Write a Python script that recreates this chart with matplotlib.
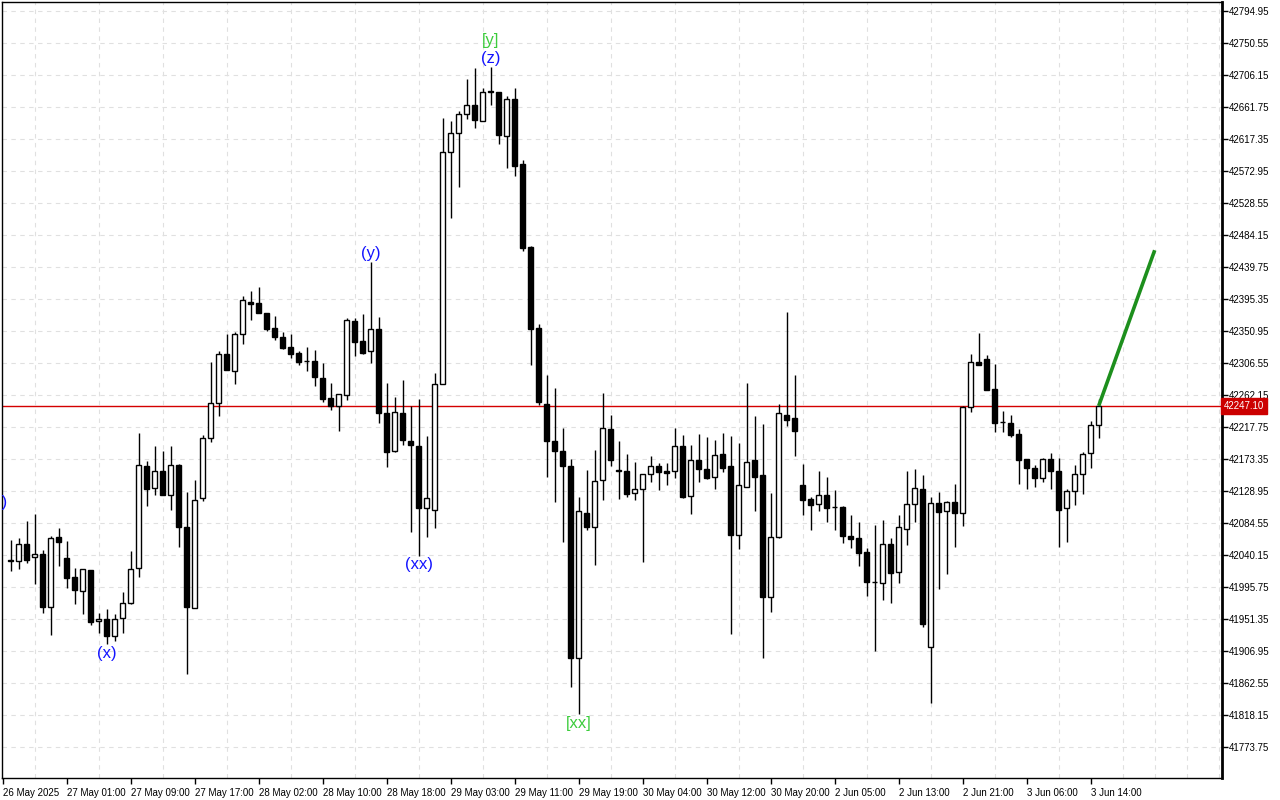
import matplotlib
matplotlib.use("Agg")
import matplotlib.pyplot as plt
import matplotlib.transforms as mtransforms
import numpy as np

# hourly candles (bar 0 = first full bar on the left)
opens = [42031.8, 42031.8, 42055.4, 42037.0, 42041.5, 41967.6, 42065.1, 42035.6, 42009.2, 41989.8,
         42018.9, 41948.2, 41951.8, 41927.3, 41952.3, 41973.1, 42021.7, 42163.2, 42132.7, 42157.1,
         42123.0, 42164.6, 42078.6, 41966.2, 42119.2, 42202.5, 42250.6, 42318.6, 42295.0, 42346.4,
         42390.8, 42389.4, 42375.5, 42354.7, 42343.0, 42328.8, 42320.4, 42308.9, 42308.9, 42285.7,
         42257.6, 42246.5, 42261.7, 42364.8, 42337.1, 42322.8, 42353.3, 42236.8, 42184.9, 42237.2,
         42198.7, 42191.5, 42105.9, 42102.6, 42277.6, 42599.5, 42625.1, 42651.9, 42664.1, 42642.2,
         42683.5, 42682.6, 42621.2, 42672.6, 42582.1, 42467.4, 42354.8, 42249.7, 42198.9, 42184.7,
         42163.8, 41897.5, 42098.7, 42079.0, 42143.8, 42214.6, 42158.1, 42156.7, 42125.8, 42131.3,
         42152.1, 42163.2, 42156.7, 42156.3, 42191.0, 42121.6, 42171.5, 42159.1, 42148.0, 42179.9,
         42163.6, 42068.3, 42134.1, 42171.5, 42151.2, 41981.5, 42065.5, 42234.0, 42230.2, 42137.3,
         42117.4, 42110.5, 42123.0, 42106.3, 42106.3, 42066.1, 42063.3, 42043.9, 42002.3, 42000.9,
         42055.8, 42016.1, 42076.6, 42110.5, 42131.3, 41912.1, 42111.9, 42100.8, 42113.3, 42098.0,
         42245.1, 42307.5, 42311.7, 42270.1, 42224.3, 42222.9, 42208.0, 42172.9, 42160.4, 42147.4,
         42172.9, 42156.7, 42104.9, 42128.5, 42152.1, 42181.3, 42220.1]
highs = [42061.0, 42063.3, 42087.3, 42097.0, 42046.7, 42066.5, 42077.6, 42059.6, 42021.7, 42020.3,
         42018.9, 41959.3, 41964.8, 41957.9, 41988.4, 42045.7, 42209.0, 42170.6, 42191.4, 42184.0,
         42191.4, 42166.4, 42127.6, 42143.8, 42206.7, 42307.5, 42323.2, 42346.4, 42349.1, 42399.5,
         42406.0, 42412.0, 42375.5, 42371.3, 42349.1, 42346.4, 42323.2, 42328.8, 42324.6, 42306.1,
         42278.4, 42263.1, 42368.6, 42368.6, 42374.5, 42447.1, 42370.0, 42278.4, 42259.0, 42282.4,
         42246.9, 42257.2, 42204.7, 42292.1, 42647.0, 42642.2, 42655.8, 42700.5, 42715.2, 42688.4,
         42717.5, 42682.6, 42676.6, 42687.8, 42587.8, 42469.0, 42360.0, 42290.5, 42271.2, 42215.8,
         42173.4, 42121.3, 42157.5, 42185.8, 42264.5, 42234.4, 42198.3, 42180.3, 42169.2, 42152.1,
         42177.1, 42167.4, 42167.4, 42215.9, 42206.2, 42192.4, 42207.6, 42203.5, 42199.3, 42209.0,
         42205.3, 42195.1, 42278.8, 42232.6, 42221.5, 42126.2, 42249.2, 42376.9, 42289.5, 42166.4,
         42120.2, 42156.3, 42148.4, 42130.3, 42107.7, 42095.2, 42085.5, 42049.4, 42081.4, 42088.3,
         42063.3, 42095.4, 42156.7, 42159.5, 42151.2, 42120.2, 42127.1, 42114.7, 42138.7, 42246.5,
         42318.6, 42348.2, 42317.7, 42305.2, 42240.0, 42234.4, 42215.0, 42172.9, 42164.6, 42174.3,
         42181.3, 42174.3, 42131.3, 42164.6, 42182.6, 42225.7, 42256.2]
lows = [42018.4, 42020.7, 42029.5, 41999.9, 41959.3, 41929.6, 42025.3, 41994.8, 41972.6, 41958.7,
        41943.0, 41931.5, 41916.2, 41921.2, 41932.3, 41971.7, 42009.2, 42108.6, 42123.8, 42123.0,
        42102.2, 42051.7, 41875.0, 41966.2, 42115.1, 42196.9, 42233.4, 42296.4, 42277.0, 42332.5,
        42366.6, 42375.5, 42351.4, 42338.5, 42326.4, 42313.9, 42304.2, 42295.9, 42275.1, 42252.9,
        42241.8, 42212.6, 42255.6, 42316.7, 42319.5, 42307.0, 42222.9, 42162.7, 42183.5, 42192.5,
        42072.3, 42039.3, 42065.1, 42077.3, 42277.6, 42508.4, 42550.8, 42644.7, 42632.5, 42642.2,
        42665.1, 42611.1, 42577.7, 42566.3, 42461.8, 42303.5, 42248.0, 42148.0, 42114.0, 42058.6,
        41856.7, 41820.0, 42074.4, 42026.4, 42116.9, 42164.1, 42118.3, 42121.0, 42116.9, 42030.9,
        42141.9, 42130.8, 42137.7, 42147.4, 42119.7, 42097.5, 42141.9, 42146.0, 42132.1, 42155.7,
        41931.0, 42048.9, 42134.1, 42101.6, 41897.7, 41961.5, 42063.3, 42219.6, 42177.9, 42095.7,
        42074.4, 42101.6, 42086.4, 42074.8, 42057.2, 42050.3, 42025.3, 41983.7, 41907.4, 41978.1,
        41974.0, 42001.7, 42054.4, 42086.4, 41939.8, 41835.2, 41993.4, 42013.8, 42051.3, 42080.8,
        42238.1, 42304.2, 42269.5, 42211.2, 42211.2, 42204.3, 42139.1, 42132.1, 42134.9, 42141.9,
        42132.1, 42050.8, 42058.6, 42109.9, 42125.2, 42160.4, 42202.9]
closes = [42031.8, 42055.4, 42033.6, 42041.1, 41967.6, 42063.3, 42058.6, 42008.7, 41991.2, 42020.3,
          41947.6, 41952.0, 41927.3, 41951.8, 41974.0, 42021.1, 42164.6, 42131.3, 42157.1, 42123.0,
          42164.6, 42079.4, 41967.6, 42116.0, 42202.5, 42250.6, 42318.6, 42296.4, 42346.4, 42393.5,
          42388.8, 42375.5, 42353.7, 42342.2, 42327.8, 42319.5, 42308.4, 42308.9, 42286.7, 42257.0,
          42246.5, 42263.1, 42365.8, 42336.1, 42320.8, 42353.3, 42236.8, 42183.5, 42238.1, 42199.7,
          42192.5, 42104.9, 42119.5, 42277.6, 42599.5, 42625.1, 42651.9, 42664.1, 42643.2, 42682.0,
          42682.0, 42622.3, 42672.6, 42580.4, 42465.7, 42354.3, 42252.6, 42198.9, 42184.7, 42163.8,
          41897.5, 42101.1, 42079.0, 42143.4, 42215.9, 42172.4, 42156.3, 42125.2, 42131.3, 42152.1,
          42163.2, 42154.9, 42154.3, 42191.0, 42121.0, 42171.5, 42159.9, 42147.4, 42178.5, 42161.3,
          42068.3, 42136.9, 42168.8, 42148.8, 41982.3, 42064.7, 42236.8, 42227.0, 42212.6, 42116.5,
          42109.9, 42123.0, 42105.8, 42106.3, 42066.9, 42062.8, 42043.3, 42003.1, 42002.3, 42055.8,
          42014.8, 42078.6, 42110.5, 42132.7, 41944.8, 42111.9, 42100.2, 42113.3, 42098.0, 42245.1,
          42307.5, 42304.2, 42269.5, 42223.7, 42224.3, 42207.1, 42172.4, 42161.3, 42147.4, 42172.9,
          42157.1, 42103.0, 42128.5, 42152.1, 42179.9, 42220.1, 42247.1]

time_labels = ["26 May 2025", "27 May 01:00", "27 May 09:00", "27 May 17:00", "28 May 02:00",
               "28 May 10:00", "28 May 18:00", "29 May 03:00", "29 May 11:00", "29 May 19:00",
               "30 May 04:00", "30 May 12:00", "30 May 20:00", "2 Jun 05:00", "2 Jun 13:00",
               "2 Jun 21:00", "3 Jun 06:00", "3 Jun 14:00"]
time_label_bars = [-1, 7, 15, 23, 31, 39, 47, 55, 63, 71, 79, 87, 95, 103, 111, 119, 127, 135]

price_ticks = [42794.95, 42750.55, 42706.15, 42661.75, 42617.35, 42572.95, 42528.55, 42484.15,
               42439.75, 42395.35, 42350.95, 42306.55, 42262.15, 42217.75, 42173.35, 42128.95,
               42084.55, 42040.15, 41995.75, 41951.35, 41906.95, 41862.55, 41818.15, 41773.75]

last_price = 42247.10

forecast_bars = [136, 143]
forecast_prices = [42247.10, 42463.0]

# wave labels: text, bar, price, colour
wave_labels = [
    ("(w)", -1.9, 42112.3, "#1414ff"),
    ("(x)", 12, 41902.8, "#1414ff"),
    ("(y)", 45, 42457.8, "#1414ff"),
    ("(xx)", 51, 42026.3, "#1414ff"),
    ("[y]", 60, 42754.7, "#3ccc3c"),
    ("(z)", 60, 42728.4, "#1414ff"),
    ("[xx]", 71, 41807.0, "#3ccc3c"),
]

plt.rcParams["font.family"] = ["Liberation Sans", "DejaVu Sans"]

fig = plt.figure(figsize=(12.8, 8), dpi=100)
ax = fig.add_axes([2 / 1280, 22 / 800, 1220 / 1280, 776 / 800])

o = np.array(opens)
h = np.array(highs)
l = np.array(lows)
c = np.array(closes)
x = np.arange(len(o))

# wicks then bodies
ax.vlines(x, l, h, color="black", linewidth=1, zorder=3)
up = c >= o
body_bottom = np.minimum(o, c)
body_height = np.maximum(np.abs(c - o), 0.8)
ax.bar(x[up], body_height[up], bottom=body_bottom[up], width=0.62,
       color="white", edgecolor="black", linewidth=1, zorder=4)
ax.bar(x[~up], body_height[~up], bottom=body_bottom[~up], width=0.62,
       color="black", edgecolor="black", linewidth=1, zorder=4)

# current price line and forecast
ax.axhline(last_price, color="#d40000", linewidth=1, zorder=2)
ax.plot(forecast_bars, forecast_prices, color="#1d8f1d", linewidth=2.6,
        solid_capstyle="butt", zorder=5)

for text, bar, price, col in wave_labels:
    ax.text(bar, price, text, color=col, fontsize=12, ha="center", va="center",
            clip_on=True, zorder=6)

ax.set_xlim(-1.0875, 151.4125)
ax.set_ylim(41730.73, 42807.44)

# axes
ax.yaxis.tick_right()
ax.set_yticks(price_ticks)
ax.set_yticklabels([f"{p:.2f}" for p in price_ticks])
ax.tick_params(axis="y", direction="out", length=4, width=1, labelsize=7, pad=1)

ax.set_xticks(time_label_bars)
ax.set_xticklabels(time_labels)
for lab in ax.get_xticklabels():
    lab.set_horizontalalignment("left")
ax.tick_params(axis="x", direction="out", length=4, width=1, labelsize=7, pad=3)
ax.set_xticks(np.arange(-1, 152, 4), minor=True)
ax.tick_params(axis="x", which="minor", length=0)

ax.grid(True, axis="y", which="major", color="#e0e0e0", linestyle=(0, (4, 4)), linewidth=0.8, zorder=0)
ax.grid(True, axis="x", which="minor", color="#e0e0e0", linestyle=(0, (4, 4)), linewidth=0.8, zorder=0)
ax.set_axisbelow(True)

for s in ax.spines.values():
    s.set_color("black")
    s.set_linewidth(1)
ax.spines["right"].set_linewidth(2)

# price tag on the axis
trans = mtransforms.blended_transform_factory(ax.transAxes, ax.transData)
ax.text(1.0018, last_price, f"{last_price:.2f}", transform=trans, color="white",
        fontsize=7, ha="left", va="center", clip_on=False, zorder=10,
        bbox=dict(boxstyle="square,pad=0.3", facecolor="#cc0000", edgecolor="#cc0000"))

fig.savefig("out.png", dpi=100, facecolor="white")
